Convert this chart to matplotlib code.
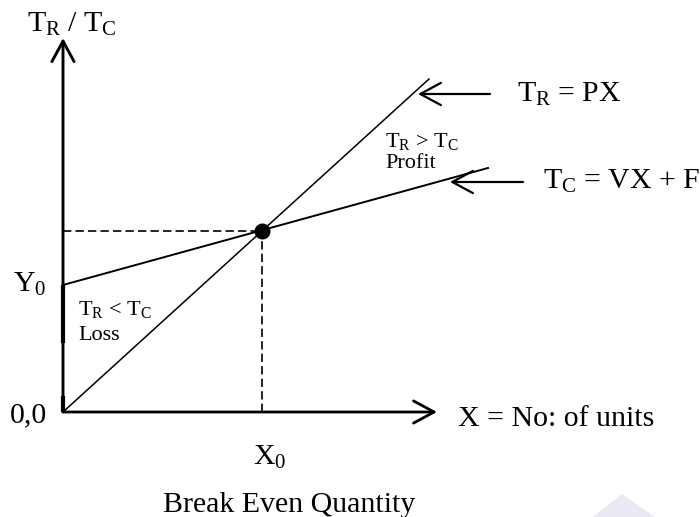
import matplotlib
matplotlib.use("Agg")
import matplotlib.pyplot as plt
from matplotlib.patches import Polygon

# Break even chart, units on both axes are arbitrary
fixed_cost = 127          # Y0, where T_C cuts the vertical axis
tr_x = [0, 366]           # T_R = PX
tr_y = [0, 333]
tc_x = [0, 425]           # T_C = VX + F
tc_y = [127, 244]
be_x = 199                # X0, break even quantity
be_y = 181                # revenue = cost at X0

# thicker bits on the vertical axis (as in the source image)
axis_marks = [(69, 127), (0, 16)]

plt.rcParams["font.family"] = "Liberation Serif"
plt.rcParams["mathtext.fontset"] = "custom"
plt.rcParams["mathtext.rm"] = "Liberation Serif"
plt.rcParams["mathtext.it"] = "Liberation Serif:italic"

big = 21.5
small = 16

fig = plt.figure(figsize=(7, 5.17), dpi=100)
ax = fig.add_axes([0, 0, 1, 1])
ax.set_xlim(-63, 637)
ax.set_ylim(-105, 412)
ax.axis("off")

# Step 1 : axes with open arrow heads
head = "->,head_length=14.8,head_width=8"
ax.annotate("", xy=(0, 374), xytext=(0, 0),
            arrowprops=dict(arrowstyle=head, mutation_scale=1, lw=2.1, color="k",
                            shrinkA=0, shrinkB=0))
ax.annotate("", xy=(374, 0), xytext=(0, 0),
            arrowprops=dict(arrowstyle=head, mutation_scale=1, lw=2.0, color="k",
                            shrinkA=0, shrinkB=0))
for lo, hi in axis_marks:
    ax.plot([0, 0], [lo, hi], color="k", lw=3, solid_capstyle="butt")

# Step 2 : revenue and cost lines
ax.plot(tr_x, tr_y, color="k", lw=1.1)
ax.plot(tc_x, tc_y, color="k", lw=1.4)

# Step 3 : break even point and guide lines
ax.plot([0, be_x], [be_y, be_y], color="k", lw=1.2, dashes=(5, 2.5))
ax.plot([be_x, be_x], [0, be_y], color="k", lw=1.2, dashes=(5, 2.5))
ax.plot(be_x, be_y, "o", color="k", ms=10.5)

# Step 4 : pointer arrows to the line names
ax.annotate("", xy=(355, 318), xytext=(427, 318),
            arrowprops=dict(arrowstyle=head, mutation_scale=1, lw=1.6, color="k",
                            shrinkA=0, shrinkB=0))
ax.annotate("", xy=(387, 230), xytext=(460, 230),
            arrowprops=dict(arrowstyle=head, mutation_scale=1, lw=1.6, color="k",
                            shrinkA=0, shrinkB=0))

# Step 5 : labels
ax.text(-36, 380, r"T$_\mathrm{R}$ / T$_\mathrm{C}$", fontsize=big, va="baseline")
ax.text(454, 310, r"T$_\mathrm{R}$ = PX", fontsize=big, va="baseline")
ax.text(480, 223, r"T$_\mathrm{C}$ = VX + F", fontsize=big, va="baseline")
ax.text(322, 265, r"T$_\mathrm{R}$ > T$_\mathrm{C}$", fontsize=small, va="baseline")
ax.text(322, 244, "Profit", fontsize=small, va="baseline")
ax.text(15, 97, r"T$_\mathrm{R}$ < T$_\mathrm{C}$", fontsize=small, va="baseline")
ax.text(15, 72, "Loss", fontsize=small, va="baseline")
ax.text(-50, fixed_cost - 7, r"Y$_\mathrm{0}$", fontsize=big, va="baseline")
ax.text(-53, -10, "0,0", fontsize=big, va="baseline")
ax.text(be_x - 9, -53, r"X$_\mathrm{0}$", fontsize=big, va="baseline")
ax.text(395, -14, "X = No: of units", fontsize=big, va="baseline")
ax.text(100, -100, "Break Even Quantity", fontsize=big, va="baseline")

# faint watermark corner at bottom right
fig.patches.append(Polygon([(593, 0), (622, 23), (655, 0)], closed=True,
                           transform=None, facecolor="#e8e9f3", edgecolor="none"))

fig.savefig("out.png", dpi=100)
